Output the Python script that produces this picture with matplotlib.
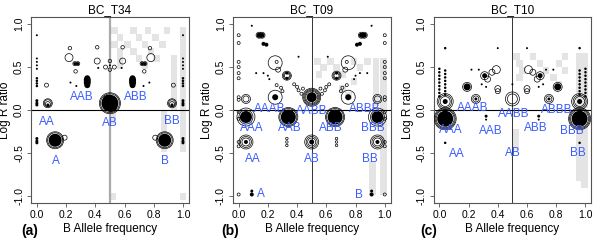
import numpy as np
import matplotlib.pyplot as plt

plt.rcParams['font.family'] = ['Liberation Sans', 'DejaVu Sans']

# ---------------- data ----------------
titles = ['BC_T34', 'BC_T09', 'BC_T10']
panel_tags = ['(a)', '(b)', '(c)']
xtick_vals = [0.0, 0.2, 0.4, 0.6, 0.8, 1.0]
ytick_vals = [-1.0, -0.5, 0.0, 0.5, 1.0]

# panel (a): open circles (x, y, diameter px), filled dots, grey cells, labels
a_rings = [(0.066, 0.29, 4), (0.934, 0.29, 4),
           (0.075, 0.08, 9), (0.075, 0.08, 7), (0.075, 0.07, 5),
           (0.925, 0.08, 9), (0.925, 0.08, 7), (0.925, 0.07, 5),
           (0.22, 0.61, 8), (0.226, 0.72, 3.5), (0.265, 0.45, 3.5),
           (0.78, 0.61, 8), (0.774, 0.72, 3.5), (0.735, 0.45, 3.5),
           (0.26, 0.54, 4), (0.28, 0.54, 4), (0.72, 0.54, 4), (0.74, 0.54, 4),
           (0.413, 0.73, 3.5), (0.413, 0.57, 6), (0.587, 0.73, 3.5), (0.587, 0.57, 6),
           (0.5, 0.57, 3.5), (0.47, 0.5, 4), (0.53, 0.5, 4), (0.5, 0.47, 3.5),
           (0.5, 0.08, 19), (0.5, 0.08, 21),
           (0.125, -0.35, 15), (0.125, -0.35, 17), (0.19, -0.32, 5),
           (0.875, -0.35, 15), (0.875, -0.35, 17), (0.81, -0.32, 5)]
a_dots = [(0.0, 0.87, 2), (0.0, 0.60, 2), (0.0, 0.56, 2), (0.0, 0.52, 2), (0.0, 0.48, 2),
          (0.0, 0.37, 2.5), (0.0, 0.34, 2.5), (0.0, 0.31, 2.5), (0.0, 0.28, 2.5),
          (0.0, 0.11, 3), (0.0, 0.08, 3), (0.0, 0.06, 3),
          (0.0, -0.33, 3), (0.0, -0.36, 3), (0.0, -0.38, 3),
          (1.0, 0.87, 2), (1.0, 0.60, 2), (1.0, 0.56, 2), (1.0, 0.52, 2), (1.0, 0.48, 2),
          (1.0, 0.37, 2.5), (1.0, 0.34, 2.5), (1.0, 0.31, 2.5), (1.0, 0.28, 2.5),
          (1.0, 0.11, 3), (1.0, 0.08, 3), (1.0, 0.06, 3),
          (1.0, -0.33, 3), (1.0, -0.36, 3), (1.0, -0.38, 3),
          (0.345, 0.37, 6), (0.345, 0.35, 7), (0.345, 0.32, 7), (0.345, 0.29, 6),
          (0.655, 0.37, 6), (0.655, 0.35, 7), (0.655, 0.32, 7), (0.655, 0.29, 6),
          (0.5, 0.08, 17), (0.49, 0.11, 12), (0.51, 0.05, 12),
          (0.125, -0.35, 13), (0.875, -0.35, 13),
          (0.075, 0.06, 3), (0.925, 0.06, 3),
          (0.26, 0.54, 3), (0.28, 0.54, 3), (0.72, 0.54, 3), (0.74, 0.54, 3),
          (0.23, 0.32, 2), (0.27, 0.28, 2), (0.77, 0.32, 2), (0.73, 0.28, 2),
          (0.42, 0.49, 2), (0.58, 0.49, 2), (0.5, 0.52, 2)]
a_cells = [(0.53, 0.92), (0.66, 0.92), (0.76, 0.92), (0.89, 0.92),
           (0.57, 0.84), (0.70, 0.84), (0.81, 0.84),
           (0.53, 0.76), (0.62, 0.76), (0.74, 0.76), (0.86, 0.76),
           (0.57, 0.68), (0.66, 0.68), (0.78, 0.68),
           (0.57, 0.60), (0.70, 0.60), (0.82, 0.60),
           (0.57, 0.52), (0.74, 0.52),
           (0.94, 0.60), (0.94, 0.52), (0.94, 0.44), (0.94, 0.36),
           (0.94, 0.28), (0.94, 0.20), (0.94, 0.12), (0.94, 0.04),
           (1.0, 0.92), (1.0, 0.84), (1.0, 0.76), (1.0, 0.68), (1.0, 0.60), (1.0, 0.52),
           (1.0, 0.44), (1.0, 0.36), (1.0, 0.28), (1.0, 0.20), (1.0, 0.12), (1.0, 0.04),
           (1.0, -0.04), (1.0, -0.12), (1.0, -0.20), (1.0, -0.28), (1.0, -0.36), (1.0, -0.44),
           (0.87, -0.04), (0.87, -0.12), (0.87, -0.20), (0.87, -0.28), (0.87, -0.36), (0.87, -0.44),
           (0.52, -0.04), (0.52, -0.12), (0.52, -1.0), (1.0, -1.0)]
a_labels = [('AAB', 0.31, 0.155), ('ABB', 0.68, 0.155), ('AA', 0.07, -0.135),
            ('AB', 0.50, -0.15), ('BB', 0.925, -0.13), ('A', 0.13, -0.59), ('B', 0.874, -0.59)]

# panel (b)
b_rings = [(0.0, 0.87, 3), (0.0, 0.78, 3), (0.0, 0.56, 3), (0.0, 0.50, 3), (0.0, 0.43, 3),
           (0.0, 0.37, 3), (0.0, 0.15, 3), (0.0, 0.12, 3), (0.0, -0.02, 3), (0.0, -0.10, 3),
           (0.0, -0.37, 3), (0.0, -0.42, 3), (0.0, -0.98, 3),
           (1.0, 0.87, 3), (1.0, 0.78, 3), (1.0, 0.56, 3), (1.0, 0.50, 3), (1.0, 0.43, 3),
           (1.0, 0.37, 3), (1.0, 0.15, 3), (1.0, 0.12, 3), (1.0, -0.02, 3), (1.0, -0.10, 3),
           (1.0, -0.37, 3), (1.0, -0.42, 3), (1.0, -0.98, 3),
           (0.14, 0.87, 6), (0.16, 0.87, 6), (0.84, 0.87, 6), (0.86, 0.87, 6),
           (0.25, 0.55, 14), (0.26, 0.56, 3), (0.27, 0.47, 5),
           (0.75, 0.55, 14), (0.74, 0.56, 3), (0.73, 0.47, 5),
           (0.33, 0.40, 9), (0.33, 0.40, 7), (0.33, 0.40, 5),
           (0.67, 0.40, 9), (0.67, 0.40, 7), (0.67, 0.40, 5),
           (0.25, 0.15, 14), (0.75, 0.15, 14),
           (0.05, 0.13, 9), (0.05, 0.13, 6), (0.95, 0.13, 9), (0.95, 0.13, 6),
           (0.05, -0.08, 14), (0.05, -0.08, 18), (0.95, -0.08, 14), (0.95, -0.08, 18),
           (0.34, -0.08, 17), (0.34, -0.08, 19), (0.66, -0.08, 17), (0.66, -0.08, 19),
           (0.5, 0.15, 12), (0.5, 0.15, 14), (0.5, 0.15, 16), (0.5, 0.15, 18),
           (0.05, -0.37, 8), (0.05, -0.37, 11), (0.05, -0.37, 14),
           (0.5, -0.37, 8), (0.5, -0.37, 11), (0.5, -0.37, 14),
           (0.95, -0.37, 8), (0.95, -0.37, 11), (0.95, -0.37, 14),
           (0.33, -0.33, 2.5), (0.33, -0.37, 2.5), (0.33, -0.41, 2.5),
           (0.67, -0.33, 2.5), (0.67, -0.37, 2.5), (0.67, -0.41, 2.5),
           (0.26, 0.29, 3), (0.29, 0.26, 3), (0.30, 0.22, 3), (0.38, 0.30, 3),
           (0.40, 0.27, 3), (0.41, 0.23, 3), (0.43, 0.19, 3), (0.44, 0.25, 3),
           (0.74, 0.29, 3), (0.71, 0.26, 3), (0.70, 0.22, 3), (0.62, 0.30, 3),
           (0.60, 0.27, 3), (0.59, 0.23, 3), (0.57, 0.19, 3), (0.56, 0.25, 3)]
b_dots = [(0.09, 0.98, 2), (0.91, 0.98, 2),
          (0.14, 0.87, 5), (0.16, 0.87, 5), (0.84, 0.87, 5), (0.86, 0.87, 5),
          (0.17, 0.77, 4), (0.19, 0.76, 4), (0.83, 0.77, 4), (0.81, 0.76, 4),
          (0.12, 0.43, 2), (0.17, 0.43, 2), (0.20, 0.40, 2), (0.21, 0.36, 2),
          (0.88, 0.43, 2), (0.83, 0.43, 2), (0.80, 0.40, 2), (0.79, 0.36, 2),
          (0.33, 0.43, 3), (0.33, 0.37, 3), (0.67, 0.43, 3), (0.67, 0.37, 3),
          (0.25, 0.15, 6), (0.75, 0.15, 6),
          (0.05, -0.08, 12), (0.95, -0.08, 12), (0.34, -0.08, 15), (0.66, -0.08, 15),
          (0.5, 0.15, 10),
          (0.05, -0.37, 4), (0.5, -0.37, 5), (0.95, -0.37, 4),
          (0.41, 0.62, 2), (0.61, 0.62, 2),
          (0.09, -0.94, 3), (0.09, -0.98, 4), (0.91, -0.94, 3), (0.91, -0.98, 4)]
b_cells = [(0.54, 0.57), (0.63, 0.57), (0.79, 0.57), (0.88, 0.57),
           (0.58, 0.49), (0.67, 0.49), (0.83, 0.49),
           (0.55, 0.41), (0.71, 0.41), (0.79, 0.33), (0.71, 0.25), (0.75, 0.17),
           (0.94, 0.57), (0.94, 0.49), (0.94, 0.41), (0.94, 0.33), (0.94, 0.25), (0.94, 0.17), (0.94, 0.09),
           (0.99, 0.57), (0.99, 0.49), (0.99, 0.41), (0.99, 0.33), (0.99, 0.25), (0.99, 0.17),
           (0.99, 0.09), (0.99, 0.01), (0.99, -0.07), (0.99, -0.15), (0.99, -0.23), (0.99, -0.31),
           (0.99, -0.39), (0.99, -0.47), (0.99, -0.55), (0.99, -0.63), (0.99, -0.71),
           (0.99, -0.79), (0.99, -0.87), (0.99, -0.95),
           (0.915, -0.63), (0.915, -0.71), (0.915, -0.79), (0.915, -0.87), (0.915, -0.95)]
b_labels = [('AAAB', 0.21, 0.01), ('AABB', 0.50, -0.01), ('ABBB', 0.86, 0.01),
            ('AAA', 0.09, -0.21), ('AAB', 0.35, -0.21), ('ABB', 0.63, -0.21), ('BBB', 0.92, -0.21),
            ('AA', 0.10, -0.57), ('AB', 0.50, -0.57), ('BB', 0.90, -0.57),
            ('A', 0.155, -0.98), ('B', 0.82, -0.99)]

# panel (c)
c_rings = [(0.04, -0.10, 18), (0.04, -0.10, 20), (0.04, -0.10, 22),
           (0.96, -0.10, 18), (0.96, -0.10, 20), (0.96, -0.10, 22),
           (0.04, 0.10, 10), (0.04, 0.10, 13), (0.04, 0.10, 16),
           (0.96, 0.10, 10), (0.96, 0.10, 13), (0.96, 0.10, 16),
           (0.19, 0.27, 9), (0.81, 0.27, 9),
           (0.25, 0.13, 6), (0.25, 0.13, 9), (0.75, 0.13, 6), (0.75, 0.13, 9),
           (0.31, 0.40, 8), (0.33, 0.36, 6), (0.69, 0.40, 8), (0.67, 0.36, 6),
           (0.36, 0.44, 6), (0.64, 0.44, 6), (0.39, 0.47, 8), (0.61, 0.47, 8),
           (0.40, 0.25, 6), (0.40, 0.22, 5), (0.60, 0.25, 6), (0.60, 0.22, 5),
           (0.5, 0.13, 14), (0.5, 0.13, 10)]
c_dots = [(0.0, 0.48, 2.5), (0.0, 0.44, 2.5), (0.0, 0.40, 2.5), (0.0, 0.36, 2.5), (0.0, 0.32, 2.5),
          (0.0, 0.28, 2.5), (0.0, 0.24, 2.5), (0.0, 0.20, 2.5), (0.0, 0.16, 2.5),
          (0.04, 0.46, 2.5), (0.04, 0.42, 2.5), (0.04, 0.38, 2.5), (0.04, 0.34, 2.5),
          (0.04, 0.30, 2.5), (0.04, 0.26, 2.5), (0.04, 0.22, 2.5), (0.04, 0.18, 2.5),
          (1.0, 0.48, 2.5), (1.0, 0.44, 2.5), (1.0, 0.40, 2.5), (1.0, 0.36, 2.5), (1.0, 0.32, 2.5),
          (1.0, 0.28, 2.5), (1.0, 0.24, 2.5), (1.0, 0.20, 2.5), (1.0, 0.16, 2.5),
          (0.96, 0.46, 2.5), (0.96, 0.42, 2.5), (0.96, 0.38, 2.5), (0.96, 0.34, 2.5),
          (0.96, 0.30, 2.5), (0.96, 0.26, 2.5), (0.96, 0.22, 2.5), (0.96, 0.18, 2.5),
          (0.04, 0.72, 2.5), (0.96, 0.72, 2.5), (0.04, -0.38, 2.5), (0.96, -0.38, 2.5),
          (0.4, 0.72, 2), (0.6, 0.72, 2),
          (0.04, -0.10, 16), (0.96, -0.10, 16), (0.04, 0.10, 5), (0.96, 0.10, 5),
          (0.19, 0.27, 7), (0.81, 0.27, 7), (0.25, 0.13, 3), (0.75, 0.13, 3),
          (0.31, 0.40, 5), (0.69, 0.40, 5), (0.5, 0.30, 2),
          (0.32, -0.07, 3), (0.32, -0.11, 2), (0.68, -0.07, 3), (0.68, -0.11, 2),
          (0.22, 0.47, 2), (0.27, 0.47, 2), (0.78, 0.47, 2), (0.73, 0.47, 2),
          (0.29, 0.30, 2), (0.32, 0.27, 2), (0.68, 0.27, 2), (0.71, 0.30, 2)]
c_cells = [(0.53, 0.62), (0.64, 0.62), (0.86, 0.62),
           (0.55, 0.54), (0.69, 0.54), (0.82, 0.54),
           (0.57, 0.46), (0.73, 0.46), (0.86, 0.46),
           (0.55, 0.38), (0.78, 0.38), (0.82, 0.30),
           (0.955, 0.62), (0.955, 0.54), (0.955, 0.46), (0.955, 0.38),
           (0.955, 0.30), (0.955, 0.22), (0.955, 0.14), (0.955, 0.06),
           (0.995, 0.62), (0.995, 0.54), (0.995, 0.46), (0.995, 0.38),
           (0.995, 0.30), (0.995, 0.22), (0.995, 0.14), (0.995, 0.06),
           (0.955, -0.22), (0.955, -0.30), (0.955, -0.38), (0.955, -0.46),
           (0.955, -0.54), (0.955, -0.62), (0.955, -0.70), (0.955, -0.78),
           (0.995, -0.22), (0.995, -0.30), (0.995, -0.38), (0.995, -0.46),
           (0.995, -0.54), (0.995, -0.62), (0.995, -0.70), (0.995, -0.78), (0.995, -0.86),
           (0.52, -0.26), (0.52, -0.34), (0.52, -0.42)]
c_labels = [('AAAB', 0.23, 0.02), ('AABB', 0.51, -0.04), ('ABBB', 0.80, 0.0),
            ('AAA', 0.08, -0.23), ('AAB', 0.35, -0.24), ('ABB', 0.66, -0.21), ('BBB', 0.91, -0.24),
            ('AA', 0.12, -0.51), ('AB', 0.50, -0.50), ('BB', 0.95, -0.50)]

panels = [(a_rings, a_dots, a_cells, a_labels),
          (b_rings, b_dots, b_cells, b_labels),
          (c_rings, c_dots, c_cells, c_labels)]

# ---------------- drawing ----------------
fig = plt.figure(figsize=(6, 2.45), dpi=100)
lefts = [0.0517, 0.388, 0.7225]
tag_x = [0.05, 0.383, 0.715]
frame_col = '#555555'
lab_col = '#3a5cff'
cw, ch = 0.045, 0.082   # grey cell size in data units


def px2s(d):
    # diameter in pixels -> scatter area in pt^2
    return (np.asarray(d) * 0.72) ** 2


for i, (rings, dots, cells, labels) in enumerate(panels):
    ax = fig.add_axes([lefts[i], 0.171, 0.263, 0.759])
    ax.set_xlim(-0.04, 1.04)
    ax.set_ylim(-1.08, 1.08)

    for cx, cy in cells:
        ax.add_patch(plt.Rectangle((cx - cw / 2, cy - ch / 2), cw, ch,
                                   facecolor='#e4e4e4', edgecolor='none', zorder=0))

    if i == 0:
        ax.axvline(0.5, color='#aaaaaa', lw=1.6, zorder=1)
    else:
        ax.axvline(0.5, color='#333333', lw=0.7, zorder=1)
    ax.axhline(0.0, color='black', lw=0.8, zorder=2)

    d = np.array(dots)
    ax.scatter(d[:, 0], d[:, 1], s=px2s(d[:, 2]), color='black', linewidths=0, zorder=3)
    r = np.array(rings)
    ax.scatter(r[:, 0], r[:, 1], s=px2s(r[:, 2]), facecolors='none',
               edgecolors='black', linewidths=0.5, zorder=4)

    for txt, lx, ly in labels:
        ax.text(lx, ly, txt, color=lab_col, fontsize=8.5, ha='center', va='center', zorder=5)

    ax.set_xticks(xtick_vals)
    ax.set_xticklabels(['%.1f' % v for v in xtick_vals])
    ax.set_yticks(ytick_vals)
    ax.set_yticklabels(['%.1f' % v for v in ytick_vals], rotation=90, va='center')
    ax.tick_params(length=3, width=0.6, color=frame_col, labelsize=7.5, pad=2)
    for sp in ax.spines.values():
        sp.set_color(frame_col)
        sp.set_linewidth(0.8)
    ax.set_title(titles[i], fontsize=8.5, pad=3)
    ax.set_xlabel('B Allele frequency', fontsize=8.5, labelpad=2)
    ax.set_ylabel('Log R ratio', fontsize=8.5, labelpad=2)
    fig.text(tag_x[i], 0.057, panel_tags[i], fontsize=10, fontweight='bold',
             ha='center', va='center')

fig.savefig('out.png', dpi=100)
